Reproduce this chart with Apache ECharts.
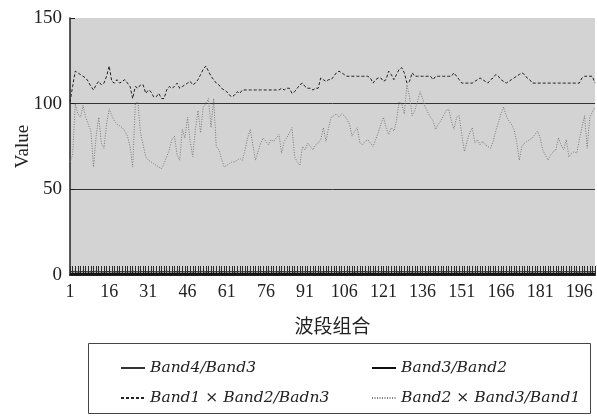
<!DOCTYPE html>
<html>
<head>
<meta charset="utf-8">
<script src="https://cdn.jsdelivr.net/npm/echarts@6/dist/echarts.min.js"></script>
<style>
  html, body { margin: 0; padding: 0; background: #fff; }
  #main { width: 597px; height: 418px; }
</style>
</head>
<body>
<div id="main"></div>
<script>
// 横轴：波段组合序号 1..202
const bandIndex = Array.from({ length: 202 }, (_, i) => String(i + 1));

const seriesNames = [
  "Band4/Band3",
  "Band3/Band2",
  "Band1 × Band2/Badn3",
  "Band2 × Band3/Band1",
];

// 两条比值曲线贴近 0
const band4over3 = [
  2.1, 2.0, 2.2, 1.9, 2.0, 2.1, 2.0, 1.9, 2.1, 2.0, 2.2, 2.0, 1.9, 2.0, 2.1, 2.0, 2.0, 1.9, 2.1, 2.0,
  2.0, 2.1, 1.9, 2.0, 2.2, 2.0, 1.9, 2.0, 2.1, 2.0, 2.0, 2.1, 2.0, 1.9, 2.0, 2.1, 2.0, 2.2, 2.0, 1.9,
  2.0, 2.1, 2.0, 2.0, 1.9, 2.1, 2.0, 2.0, 2.1, 1.9, 2.0, 2.2, 2.0, 2.1, 2.0, 1.9, 2.0, 2.0, 2.1, 2.0,
  1.9, 2.0, 2.1, 2.0, 2.0, 2.1, 1.9, 2.0, 2.0, 2.1, 2.0, 2.0, 1.9, 2.1, 2.0, 2.0, 2.2, 2.0, 1.9, 2.0,
  2.1, 2.0, 2.0, 1.9, 2.1, 2.0, 2.0, 2.1, 2.0, 1.9, 2.0, 2.1, 2.0, 2.0, 2.2, 2.0, 1.9, 2.0, 2.1, 2.0,
  2.0, 2.1, 2.0, 1.9, 2.0, 2.0, 2.1, 2.0, 2.0, 1.9, 2.1, 2.0, 2.0, 2.1, 2.0, 1.9, 2.0, 2.2, 2.0, 2.0,
  2.1, 2.0, 1.9, 2.0, 2.1, 2.0, 2.0, 2.1, 1.9, 2.0, 2.0, 2.1, 2.0, 2.0, 1.9, 2.1, 2.0, 2.0, 2.1, 2.0,
  1.9, 2.0, 2.1, 2.0, 2.0, 2.2, 1.9, 2.0, 2.0, 2.1, 2.0, 2.0, 1.9, 2.1, 2.0, 2.0, 2.1, 2.0, 1.9, 2.0,
  2.0, 2.1, 2.0, 2.0, 1.9, 2.1, 2.0, 2.0, 2.1, 2.0, 1.9, 2.0, 2.2, 2.0, 2.0, 2.1, 2.0, 1.9, 2.0, 2.1,
  2.0, 2.0, 2.1, 1.9, 2.0, 2.0, 2.1, 2.0, 2.0, 1.9, 2.1, 2.0, 2.0, 2.1, 2.0, 1.9, 2.0, 2.1, 2.0, 2.0,
  2.1, 2.0,
];
const band3over2 = [
  0.8, 0.7, 0.8, 0.9, 0.8, 0.7, 0.8, 0.8, 0.9, 0.8, 0.7, 0.8, 0.8, 0.9, 0.8, 0.8, 0.7, 0.8, 0.9, 0.8,
  0.8, 0.7, 0.8, 0.8, 0.9, 0.8, 0.7, 0.8, 0.8, 0.8, 0.9, 0.8, 0.7, 0.8, 0.8, 0.9, 0.8, 0.8, 0.7, 0.8,
  0.8, 0.9, 0.8, 0.7, 0.8, 0.8, 0.8, 0.9, 0.8, 0.7, 0.8, 0.8, 0.9, 0.8, 0.8, 0.7, 0.8, 0.8, 0.9, 0.8,
  0.7, 0.8, 0.8, 0.9, 0.8, 0.8, 0.7, 0.8, 0.8, 0.9, 0.8, 0.7, 0.8, 0.8, 0.8, 0.9, 0.8, 0.7, 0.8, 0.8,
  0.9, 0.8, 0.8, 0.7, 0.8, 0.8, 0.9, 0.8, 0.7, 0.8, 0.8, 0.8, 0.9, 0.8, 0.7, 0.8, 0.8, 0.9, 0.8, 0.8,
  0.7, 0.8, 0.8, 0.9, 0.8, 0.7, 0.8, 0.8, 0.8, 0.9, 0.8, 0.7, 0.8, 0.8, 0.9, 0.8, 0.8, 0.7, 0.8, 0.8,
  0.9, 0.8, 0.7, 0.8, 0.8, 0.8, 0.9, 0.8, 0.7, 0.8, 0.8, 0.9, 0.8, 0.8, 0.7, 0.8, 0.8, 0.9, 0.8, 0.7,
  0.8, 0.8, 0.8, 0.9, 0.8, 0.7, 0.8, 0.8, 0.9, 0.8, 0.8, 0.7, 0.8, 0.8, 0.9, 0.8, 0.7, 0.8, 0.8, 0.8,
  0.9, 0.8, 0.7, 0.8, 0.8, 0.9, 0.8, 0.8, 0.7, 0.8, 0.8, 0.9, 0.8, 0.7, 0.8, 0.8, 0.8, 0.9, 0.8, 0.7,
  0.8, 0.8, 0.9, 0.8, 0.8, 0.7, 0.8, 0.8, 0.9, 0.8, 0.7, 0.8, 0.8, 0.8, 0.9, 0.8, 0.7, 0.8, 0.8, 0.9,
  0.8, 0.8,
];

// Band1×Band2/Badn3（虚线）
const band12over3 = [
  101, 110, 119, 118, 117, 116, 115, 113, 110, 108,
  111, 113, 111, 112, 116, 122, 113, 112, 114, 112,
  113, 114, 112, 110, 103, 110, 109, 111, 111, 106,
  108, 107, 104, 104, 106, 103, 103, 108, 110, 109,
  110, 112, 109, 110, 111, 112, 113, 111, 112, 114,
  117, 120, 122, 119, 116, 114, 112, 111, 109, 108,
  107, 105, 104, 105, 107, 106, 108, 108, 108, 108,
  108, 108, 108, 108, 108, 108, 108, 108, 108, 108,
  108, 109, 108, 109, 109, 106, 107, 109, 111, 112,
  110, 109, 109, 108, 109, 109, 115, 114, 113, 114,
  114, 116, 118, 119, 118, 117, 116, 116, 116, 116,
  116, 116, 116, 116, 116, 115, 112, 114, 115, 115,
  113, 114, 119, 117, 114, 117, 120, 121, 118, 112,
  113, 118, 116, 116, 116, 116, 116, 116, 116, 114,
  116, 116, 116, 116, 116, 116, 116, 118, 116, 114,
  112, 112, 112, 112, 112, 113, 114, 115, 114, 113,
  112, 114, 115, 117, 116, 114, 113, 112, 113, 114,
  115, 116, 117, 118, 117, 115, 114, 112, 112, 112,
  112, 112, 112, 112, 112, 112, 112, 112, 112, 112,
  112, 112, 112, 112, 112, 112, 115, 116, 116, 116,
  116, 112,
];

// Band2×Band3/Band1（点线）
const band23over1 = [
  66, 70, 100, 94, 92, 99, 92, 88, 84, 63,
  81, 92, 77, 74, 88, 97, 93, 90, 88, 87,
  86, 84, 81, 75, 63, 100, 101, 83, 76, 69,
  67, 66, 65, 64, 63, 62, 65, 69, 73, 79,
  81, 70, 67, 85, 80, 92, 78, 69, 85, 96,
  83, 98, 100, 103, 86, 103, 75, 73, 68, 63,
  64, 65, 66, 66, 67, 68, 67, 73, 80, 85,
  76, 67, 72, 77, 80, 78, 76, 79, 78, 80,
  82, 71, 78, 80, 83, 86, 69, 66, 64, 75,
  73, 77, 75, 73, 76, 77, 79, 86, 78, 86,
  92, 93, 94, 92, 94, 93, 91, 88, 81, 84,
  86, 77, 76, 78, 79, 77, 75, 79, 83, 88,
  92, 86, 82, 86, 84, 90, 101, 100, 94, 111,
  104, 93, 96, 101, 107, 103, 98, 95, 92, 90,
  85, 88, 90, 93, 96, 97, 90, 85, 92, 93,
  82, 72, 78, 83, 86, 77, 79, 76, 78, 76,
  75, 74, 78, 84, 89, 94, 98, 93, 90, 88,
  85, 78, 67, 75, 77, 78, 79, 80, 82, 84,
  80, 73, 70, 67, 70, 72, 73, 80, 76, 73,
  79, 69, 71, 72, 71, 79, 86, 93, 74, 92,
  95, 98,
];

const serif = "'Liberation Serif', 'Noto Sans CJK SC', serif";

// 图例：两列，各两项
const legendText = {
  fontFamily: "'DejaVu Serif', serif",
  fontStyle: "italic",
  fontSize: 15.5,
  color: "#222",
};
function makeLegend(names, left) {
  return {
    data: names,
    orient: "vertical",
    left: left,
    top: 360,
    padding: 0,
    itemWidth: 24,
    itemHeight: 18,
    itemGap: 14,
    itemStyle: { opacity: 0 },
    textStyle: legendText,
  };
}

const option = {
  animation: false,
  backgroundColor: "#fff",
  grid: {
    left: 70,
    right: 2,
    top: 18,
    bottom: 143,
    outerBoundsMode: "none",
    show: true,
    backgroundColor: "#d3d3d3",
    borderWidth: 0,
  },
  legend: [
    makeLegend([seriesNames[0], seriesNames[2]], 120),
    makeLegend([seriesNames[1], seriesNames[3]], 371),
  ],
  graphic: [
    {
      type: "rect",
      shape: { x: 88.5, y: 343.5, width: 502, height: 70 },
      style: { fill: "none", stroke: "#444", lineWidth: 1 },
    },
  ],
  xAxis: {
    type: "category",
    data: bandIndex,
    boundaryGap: false,
    name: "波段组合",
    nameLocation: "middle",
    nameGap: 44,
    nameTextStyle: { fontFamily: serif, fontSize: 19, color: "#222" },
    axisLine: { lineStyle: { color: "#222", width: 2 } },
    axisTick: {
      interval: 0,
      inside: true,
      length: 9,
      lineStyle: { color: "#2a2a2a", width: 1 },
    },
    axisLabel: {
      interval: 14,
      fontFamily: serif,
      fontSize: 18,
      color: "#222",
      margin: 8,
    },
    splitLine: { show: false },
  },
  yAxis: {
    type: "value",
    min: 0,
    max: 150,
    interval: 50,
    name: "Value",
    nameLocation: "middle",
    nameGap: 37,
    nameMoveOverlap: false,
    nameTextStyle: { fontFamily: serif, fontSize: 19, color: "#222" },
    axisLine: { show: true, lineStyle: { color: "#222", width: 1.5 } },
    axisTick: { show: true, inside: true, length: 5, lineStyle: { color: "#222" } },
    axisLabel: { fontFamily: serif, fontSize: 19, color: "#222", margin: 8 },
    splitLine: {
      show: true,
      showMinLine: false,
      showMaxLine: false,
      lineStyle: { color: "#333", width: 1 },
    },
  },
  series: [
    {
      name: seriesNames[0],
      type: "line",
      data: band4over3,
      symbol: "none",
      color: "#333",
      lineStyle: { color: "#333", width: 1, type: "solid" },
    },
    {
      name: seriesNames[1],
      type: "line",
      data: band3over2,
      symbol: "none",
      color: "#111",
      lineStyle: { color: "#111", width: 2, type: "solid" },
    },
    {
      name: seriesNames[2],
      type: "line",
      data: band12over3,
      symbol: "none",
      color: "#222",
      lineStyle: { color: "#222", width: 1, type: [3, 2] },
    },
    {
      name: seriesNames[3],
      type: "line",
      data: band23over1,
      symbol: "none",
      color: "#7a7a7a",
      lineStyle: { color: "#7a7a7a", width: 1, type: [1, 1.5] },
    },
  ],
};

const myChart = echarts.init(document.getElementById("main"));
myChart.setOption(option);
</script>
</body>
</html>
